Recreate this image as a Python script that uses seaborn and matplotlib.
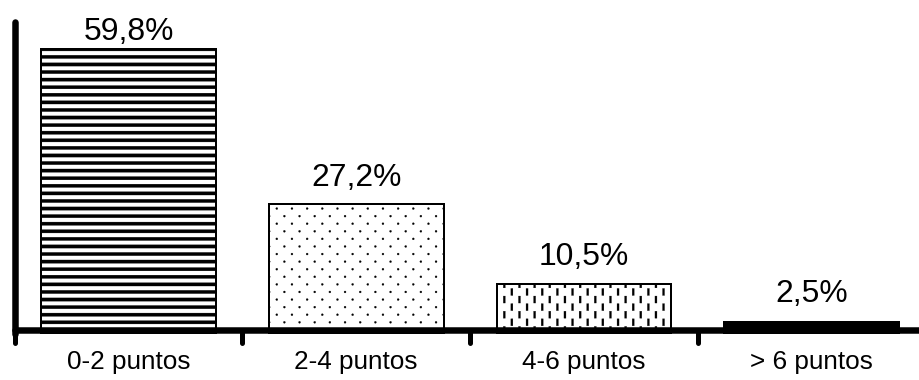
import numpy as np
import matplotlib
matplotlib.use("Agg")
import matplotlib.pyplot as plt
import matplotlib.hatch as mhatch
from matplotlib.path import Path
from matplotlib.markers import MarkerStyle, TICKDOWN
import seaborn as sns

# ---- data -------------------------------------------------------------
categories = ["0-2 puntos", "2-4 puntos", "4-6 puntos", "> 6 puntos"]
shares = [59.8, 27.2, 10.5, 2.5]

# ---- styling ----------------------------------------------------------
bar_hatches = ["-", ".", "|", None]
bar_faces = ["white", "white", "white", "black"]
label_gaps_px = [9, 18, 19, 20]

W, H = 919, 380
DPI = 91.9
TILE = int(DPI)          # Agg hatch tile size in pixels


def px2pt(v):
    return v * 72.0 / DPI


# ---- fill patterns drawn as filled shapes inside one hatch tile --------
def _rect(cx, cy, w, h):
    v = np.array([[cx - w / 2, cy - h / 2], [cx + w / 2, cy - h / 2],
                  [cx + w / 2, cy + h / 2], [cx - w / 2, cy + h / 2],
                  [cx - w / 2, cy - h / 2]])
    c = [Path.MOVETO, Path.LINETO, Path.LINETO, Path.LINETO, Path.CLOSEPOLY]
    return v, np.array(c, dtype=Path.code_type)


def _dot(cx, cy, r):
    unit = Path.unit_circle()
    return unit.vertices * r + np.array([cx, cy]), unit.codes.copy()


class _ShapePattern(mhatch.HatchPatternBase):
    symbol = ""

    def __init__(self, hatch, density):
        self.shapes = self.build() if self.symbol in hatch else []
        self.num_vertices = sum(len(v) for v, _ in self.shapes)

    def build(self):
        return []

    def set_vertices_and_codes(self, vertices, codes):
        i = 0
        for v, c in self.shapes:
            n = len(v)
            vertices[i:i + n] = v
            codes[i:i + n] = c
            i += n


class Stripes(_ShapePattern):
    symbol = "-"

    def build(self):
        rows = 12
        return [_rect(0.5, (k + 0.5) / rows, 1.04, 3.3 / TILE)
                for k in range(rows)]


class Dots(_ShapePattern):
    symbol = "."

    def build(self):
        rows, cols = 12, 6
        out = []
        for r in range(rows):
            shift = 0.25 if r % 2 == 0 else 0.75
            for c in range(cols):
                out.append(_dot((c + shift) / cols, (r + 0.5) / rows, 1.0 / TILE))
        return out


class Dashes(_ShapePattern):
    symbol = "|"

    def build(self):
        rows, cols = 6, 12
        out = []
        for c in range(cols):
            shift = 0.25 if c % 2 == 0 else 0.75
            for r in range(rows):
                out.append(_rect((c + 0.5) / cols, (r + shift) / rows,
                                 2.0 / TILE, 7.0 / TILE))
        return out


mhatch._hatch_types = [Stripes, Dots, Dashes]

# ---- figure -----------------------------------------------------------
sns.set_theme(style="white")
plt.rcParams["font.family"] = ["Liberation Sans", "DejaVu Sans"]
plt.rcParams["hatch.linewidth"] = 0.2
plt.rcParams["hatch.color"] = "black"

fig = plt.figure(figsize=(W / DPI, H / DPI), dpi=DPI)
fig.patch.set_facecolor("white")
ax = fig.add_axes([14.6 / W, 46 / H, 911 / W, 312 / H])
ax.set_facecolor("white")

sns.barplot(x=categories, y=shares, color="white", width=0.768,
            edgecolor="black", linewidth=px2pt(2), saturation=1,
            errorbar=None, ax=ax)

for bar, hatch, face in zip(ax.patches, bar_hatches, bar_faces):
    bar.set_facecolor(face)
    bar.set_hatch(hatch)

for bar, v, gap in zip(ax.patches, shares, label_gaps_px):
    ax.annotate(f"{v:.1f}%".replace(".", ","),
                xy=(bar.get_x() + bar.get_width() / 2, v),
                xytext=(0, px2pt(gap)), textcoords="offset points",
                ha="center", va="baseline", fontsize=25, color="black")

ax.set_xlim(-0.5, 3.5)
ax.set_ylim(0, 65.5)
ax.set_yticks([])

for side in ("top", "right"):
    ax.spines[side].set_visible(False)
for side in ("left", "bottom"):
    sp = ax.spines[side]
    sp.set_visible(True)
    sp.set_color("black")
    sp.set_linewidth(px2pt(6.5))
    sp.set_capstyle("round")
ax.spines["bottom"].set_position(("outward", -px2pt(4)))

ax.set_xticks(range(len(categories)), categories)
ax.set_xticks(np.arange(len(categories) + 1) - 0.5, minor=True)
ax.tick_params(axis="x", which="major", length=0, pad=px2pt(20),
               labelsize=20.5, labelcolor="black")
ax.tick_params(axis="x", which="minor", length=px2pt(13), width=px2pt(5),
               direction="out", color="black", bottom=True)
for t in ax.xaxis.get_minor_ticks(len(categories) + 1):
    t.tick1line.set_marker(MarkerStyle(TICKDOWN, capstyle="round"))

fig.savefig("out.png", dpi=DPI, facecolor="white")
